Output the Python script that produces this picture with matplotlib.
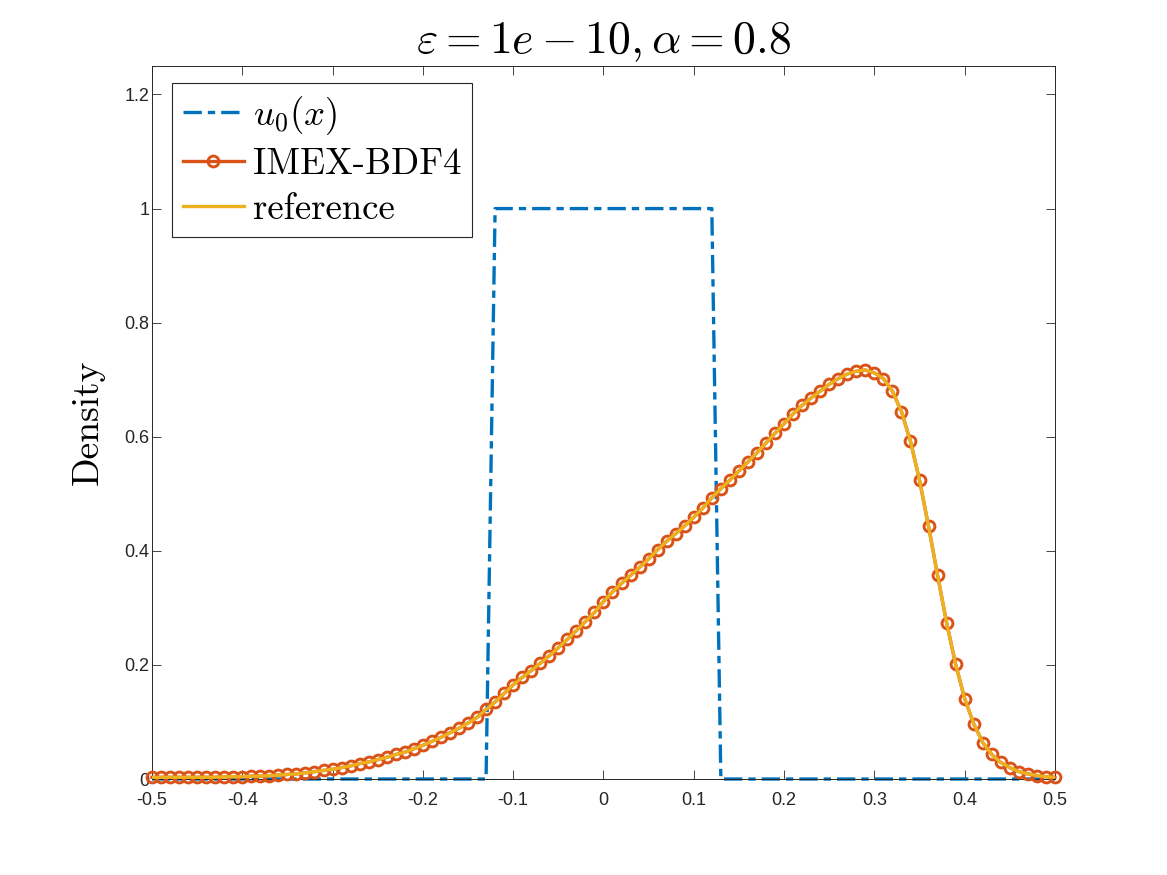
# -*- coding: utf-8 -*-
# density profile: initial condition, IMEX-BDF4 solution and reference

import numpy as np
import matplotlib
matplotlib.use("Agg")
import matplotlib.pyplot as plt

plt.rcParams["mathtext.fontset"] = "cm"
plt.rcParams["axes.unicode_minus"] = False

# grid
x = np.round(np.linspace(-0.5, 0.5, 101), 2)

# initial condition u0(x), sampled on the grid
u0 = [0.0] * 38 + [1.0] * 25 + [0.0] * 38

# numerical solution
u_bdf4 = [
    0.003, 0.003, 0.003, 0.003, 0.003, 0.003, 0.003, 0.003, 0.004, 0.004,  # -0.50 .. -0.41
    0.004, 0.005, 0.005, 0.006, 0.007, 0.008, 0.009, 0.011, 0.013, 0.015,  # -0.40 .. -0.31
    0.017, 0.020, 0.023, 0.027, 0.030, 0.034, 0.038, 0.043, 0.047, 0.053,  # -0.30 .. -0.21
    0.059, 0.066, 0.073, 0.081, 0.089, 0.098, 0.108, 0.122, 0.135, 0.150,  # -0.20 .. -0.11
    0.165, 0.178, 0.190, 0.203, 0.216, 0.230, 0.245, 0.260, 0.276, 0.292,  # -0.10 .. -0.01
    0.311, 0.328, 0.343, 0.357, 0.371, 0.386, 0.402, 0.417, 0.430, 0.444,  #  0.00 ..  0.09
    0.459, 0.475, 0.493, 0.509, 0.524, 0.540, 0.556, 0.572, 0.589, 0.606,  #  0.10 ..  0.19
    0.623, 0.640, 0.655, 0.668, 0.680, 0.692, 0.702, 0.710, 0.715, 0.717,  #  0.20 ..  0.29
    0.712, 0.702, 0.680, 0.644, 0.592, 0.524, 0.443, 0.357, 0.274, 0.201,  #  0.30 ..  0.39
    0.141, 0.097, 0.064, 0.043, 0.029, 0.020, 0.013, 0.009, 0.006, 0.004,  #  0.40 ..  0.49
    0.003,                                                                 #  0.50
]
# reference solution (coincides with the scheme at this resolution)
u_ref = list(u_bdf4)

xticks = [-0.5, -0.4, -0.3, -0.2, -0.1, 0, 0.1, 0.2, 0.3, 0.4, 0.5]
xticklabels = ["-0.5", "-0.4", "-0.3", "-0.2", "-0.1", "0", "0.1", "0.2", "0.3", "0.4", "0.5"]
yticks = [0, 0.2, 0.4, 0.6, 0.8, 1.0, 1.2]
yticklabels = ["0", "0.2", "0.4", "0.6", "0.8", "1", "1.2"]

c_blue = "#0072BD"
c_orange = "#D95319"
c_yellow = "#EDB120"
c_axis = "#262626"

fig = plt.figure(figsize=(11.67, 8.75), dpi=100)
ax = fig.add_axes([0.1302, 0.1097, 0.7738, 0.8149])

ax.plot(x, u0, linestyle=(0, (5.5, 1.8, 2.2, 1.8)), color=c_blue, linewidth=2.4,
        label=r"$u_0(x)$", clip_on=False, zorder=2)
ax.plot(x, u_bdf4, "-o", color=c_orange, linewidth=2.4, markersize=7.8,
        markerfacecolor="none", markeredgewidth=2.1, label="IMEX-BDF4", clip_on=False,
        zorder=3)
ax.plot(x, u_ref, "-", color=c_yellow, linewidth=2.4, label="reference", zorder=4)

ax.set_xlim(-0.5, 0.5)
ax.set_ylim(0, 1.25)
ax.set_xticks(xticks)
ax.set_xticklabels(xticklabels)
ax.set_yticks(yticks)
ax.set_yticklabels(yticklabels)

for lab in ax.get_xticklabels() + ax.get_yticklabels():
    lab.set_family("Liberation Sans")
    lab.set_fontsize(13)
    lab.set_color(c_axis)

ax.tick_params(direction="in", length=6.5, width=0.6, top=True, right=True,
               colors=c_axis)
ax.tick_params(axis="x", pad=9)
ax.tick_params(axis="y", pad=2)
for s in ax.spines.values():
    s.set_color(c_axis)
    s.set_linewidth(0.7)

ax.set_title(r"$\varepsilon=1e-10,\alpha=0.8$", fontsize=33, pad=9)
ax.set_ylabel("Density", family="cmr10", fontsize=27, labelpad=14)

leg = ax.legend(loc="upper left", bbox_to_anchor=(0.022, 0.976), borderaxespad=0,
                prop={"family": "cmr10", "size": 26.5}, fancybox=False,
                edgecolor=c_axis, framealpha=1, handlelength=1.65, handletextpad=0.25,
                labelspacing=0.3, borderpad=0.3, markerscale=1.0)
leg.get_frame().set_linewidth(0.8)
for h in leg.legend_handles:
    if h.get_label() == "IMEX-BDF4":
        h.set_markevery([1])

fig.savefig("out.png", dpi=100)
